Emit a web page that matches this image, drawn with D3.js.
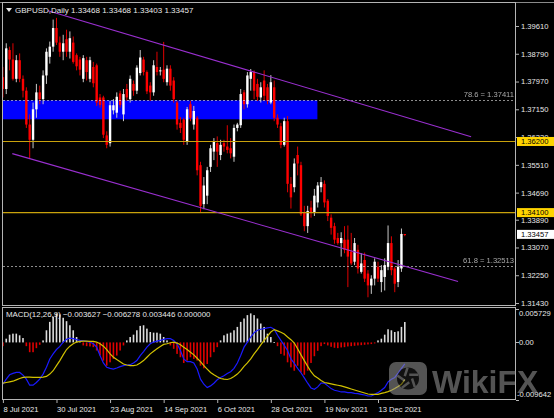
<!DOCTYPE html>
<html><head><meta charset="utf-8">
<script src="https://cdn.jsdelivr.net/npm/d3@7"></script>
<style>
html,body{margin:0;padding:0;background:#000;}
svg{display:block;}
</style></head><body>
<svg id="c" width="554" height="418"></svg>
<script>
// ---------------- DATA ----------------
const symbol = "GBPUSD,Daily";
const firstBarDate = new Date(2021, 6, 8);
const lastBarDate = new Date(2021, 11, 23);

const open = [
1.3810,1.3775,1.3890,1.3862,1.3805,1.3860,1.3805,1.3770,1.3670,1.3625,
1.3715,1.3765,1.3745,1.3815,1.3870,1.3900,1.3955,1.3912,1.3885,1.3922,
1.3885,1.3912,1.3875,1.3862,1.3805,1.3860,1.3805,1.3840,1.3845,1.3750,
1.3750,1.3638,1.3615,1.3712,1.3705,1.3762,1.3700,1.3775,1.3745,1.3790,
1.3770,1.3822,1.3862,1.3825,1.3785,1.3765,1.3840,1.3828,1.3832,1.3795,
1.3835,1.3800,1.3735,1.3675,1.3685,1.3620,1.3730,1.3670,1.3690,1.3550,
1.3435,1.3460,1.3545,1.3590,1.3615,1.3580,1.3615,1.3605,1.3600,1.3575,
1.3660,1.3668,1.3765,1.3730,1.3805,1.3825,1.3790,1.3750,1.3800,1.3780,
1.3735,1.3780,1.3690,1.3665,1.3610,1.3680,1.3495,1.3485,1.3580,1.3550,
1.3410,1.3370,1.3425,1.3410,1.3440,1.3485,1.3495,1.3445,1.3395,1.3370,
1.3335,1.3320,1.3330,1.3330,1.3295,1.3265,1.3300,1.3235,1.3270,1.3230,
1.3195,1.3215,1.3250,1.3205,1.3220,1.3250,1.3320,1.3245,1.3205,1.3245,
1.33468];
const high = [
1.3840,1.3910,1.3900,1.3910,1.3875,1.3880,1.3815,1.3780,1.3700,1.3735,
1.3790,1.3785,1.3830,1.3895,1.3915,1.3980,1.3985,1.3930,1.3935,1.3950,
1.3945,1.3930,1.3880,1.3870,1.3875,1.3870,1.3870,1.3855,1.3850,1.3760,
1.3755,1.3650,1.3740,1.3745,1.3765,1.3770,1.3775,1.3790,1.3815,1.3800,
1.3845,1.3890,1.3870,1.3830,1.3795,1.3860,1.3885,1.3840,1.3914,1.3845,
1.3845,1.3810,1.3740,1.3692,1.3690,1.3722,1.3740,1.3725,1.3695,1.3560,
1.3515,1.3545,1.3610,1.3630,1.3635,1.3625,1.3625,1.3668,1.3630,1.3670,
1.3675,1.3775,1.3772,1.3825,1.3834,1.3830,1.3805,1.3795,1.3830,1.3790,
1.3816,1.3800,1.3700,1.3675,1.3690,1.3695,1.3515,1.3570,1.3605,1.3560,
1.3430,1.3430,1.3445,1.3480,1.3500,1.3515,1.3505,1.3450,1.3405,1.3380,
1.3350,1.3352,1.3370,1.3372,1.3350,1.3335,1.3315,1.3290,1.3292,1.3240,
1.3225,1.3275,1.3265,1.3255,1.3275,1.3372,1.3340,1.3250,1.3270,1.3363,
1.33468];
const low = [
1.3750,1.3760,1.3830,1.3800,1.3795,1.3795,1.3750,1.3660,1.3570,1.3600,
1.3690,1.3730,1.3730,1.3790,1.3850,1.3885,1.3905,1.3870,1.3860,1.3870,
1.3865,1.3850,1.3830,1.3815,1.3795,1.3800,1.3795,1.3780,1.3725,1.3720,
1.3630,1.3600,1.3605,1.3700,1.3690,1.3720,1.3680,1.3740,1.3735,1.3755,
1.3760,1.3815,1.3815,1.3760,1.3740,1.3755,1.3815,1.3815,1.3795,1.3785,
1.3770,1.3735,1.3655,1.3645,1.3610,1.3610,1.3680,1.3655,1.3520,1.3412,
1.3420,1.3435,1.3530,1.3565,1.3545,1.3565,1.3590,1.3585,1.3570,1.3560,
1.3650,1.3660,1.3715,1.3720,1.3770,1.3745,1.3740,1.3735,1.3740,1.3730,
1.3730,1.3680,1.3660,1.3600,1.3605,1.3470,1.3422,1.3470,1.3520,1.3400,
1.3355,1.3350,1.3395,1.3400,1.3425,1.3470,1.3425,1.3385,1.3345,1.3318,
1.3315,1.3280,1.3290,1.3190,1.3255,1.3255,1.3230,1.3230,1.3205,1.3160,
1.3170,1.3195,1.3205,1.3175,1.3180,1.3240,1.3225,1.3175,1.3190,1.3235,
1.33403];
const close = [
1.3775,1.3895,1.3862,1.3805,1.3860,1.3805,1.3770,1.3670,1.3625,1.3715,
1.3765,1.3745,1.3815,1.3885,1.3900,1.3955,1.3912,1.3885,1.3910,1.3885,
1.3925,1.3855,1.3842,1.3832,1.3866,1.3825,1.3860,1.3792,1.3735,1.3728,
1.3640,1.3610,1.3727,1.3727,1.3752,1.3728,1.3760,1.3750,1.3805,1.3770,
1.3838,1.3868,1.3825,1.3768,1.3765,1.3845,1.3825,1.3830,1.3805,1.3835,
1.3785,1.3745,1.3670,1.3660,1.3625,1.3715,1.3690,1.3710,1.3535,1.3430,
1.3490,1.3535,1.3600,1.3620,1.3590,1.3610,1.3605,1.3595,1.3585,1.3660,
1.3670,1.3760,1.3730,1.3815,1.3825,1.3770,1.3752,1.3780,1.3755,1.3740,
1.3795,1.3690,1.3670,1.3610,1.3680,1.3495,1.3455,1.3555,1.3555,1.3405,
1.3370,1.3415,1.3410,1.3460,1.3490,1.3500,1.3440,1.3400,1.3365,1.3330,
1.3320,1.3335,1.3300,1.3280,1.3260,1.3320,1.3245,1.3260,1.3215,1.3195,
1.3215,1.3265,1.3215,1.3240,1.3255,1.3320,1.3240,1.3200,1.3250,1.3347,
1.33457];

// MACD buffers, in thousandths
const macdMainE3 = [
-7.06,-6.21,-5.47,-5.24,-5.07,-5.07,-5.52,-6.21,-7.23,-7.23,
-6.77,-6.21,-5.35,-4.21,-2.79,-1.94,-1.20,-0.68,0.06,0.51,
0.74,0.63,0.46,0.34,0.28,0.17,0.06,-0.23,-0.80,-2.22,
-3.47,-4.21,-4.38,-4.50,-4.33,-4.10,-3.93,-3.81,-3.76,-3.47,
-3.07,-2.22,-1.54,-0.80,-0.23,0.06,0.23,0.34,0.51,0.63,
0.63,0.34,-0.23,-1.37,-2.79,-3.25,-3.25,-3.47,-4.50,-6.21,
-7.06,-7.63,-7.34,-6.89,-6.32,-5.92,-5.64,-5.24,-4.95,-4.38,
-3.47,-2.22,-0.80,0.06,0.91,1.65,2.05,2.22,2.33,2.45,
2.56,2.22,1.20,0.34,-0.51,-1.37,-2.79,-3.53,-4.38,-5.12,
-5.98,-6.89,-7.69,-7.91,-7.51,-6.89,-6.89,-7.34,-7.80,-8.08,
-8.20,-8.37,-8.37,-8.48,-8.48,-8.60,-8.65,-8.77,-8.88,-9.05,
-9.05,-8.77,-8.48,-8.08,-7.63,-6.66,-6.21,-5.92,-5.18,-4.38,
-3.627];
const macdSignalE3 = [
-6.89,-6.77,-6.66,-6.55,-6.32,-6.09,-5.92,-5.86,-5.86,-5.92,
-5.92,-5.92,-5.86,-5.75,-5.35,-4.78,-3.93,-3.07,-2.11,-1.20,
-0.63,-0.23,0.06,0.17,0.23,0.23,0.17,0.17,0.06,-0.23,
-0.63,-1.20,-1.94,-2.50,-2.90,-3.25,-3.64,-3.81,-3.93,-3.93,
-3.81,-3.47,-3.07,-2.50,-1.94,-1.48,-1.08,-0.68,-0.34,-0.23,
-0.06,0.06,-0.11,-0.40,-0.80,-1.20,-1.65,-2.11,-2.68,-3.25,
-3.93,-4.50,-5.07,-5.47,-5.81,-6.09,-6.21,-6.26,-6.09,-5.75,
-5.35,-4.78,-4.04,-3.47,-2.79,-1.94,-1.20,-0.40,0.34,1.08,
1.76,2.16,1.94,1.71,1.42,0.91,0.46,-0.11,-1.08,-2.11,
-3.07,-4.04,-4.95,-5.64,-6.03,-6.43,-6.77,-6.89,-7.00,-7.12,
-7.23,-7.34,-7.51,-7.69,-7.86,-8.03,-8.20,-8.37,-8.54,-8.71,
-8.77,-8.77,-8.77,-8.60,-8.48,-8.31,-8.08,-7.80,-7.46,-7.06,
-6.278];
const macdHistE3 = [
-0.63,0.63,1.31,1.48,1.48,1.20,0.74,-0.63,-1.65,-1.65,
-0.97,-0.40,0.34,2.05,3.47,4.33,4.90,4.73,4.16,3.59,
2.90,2.05,0.91,0.28,-0.51,-0.63,-0.68,-0.80,-1.37,-2.22,
-3.07,-3.93,-3.36,-2.79,-2.22,-1.37,-0.51,0.34,0.91,1.31,
2.05,2.79,2.90,2.33,1.76,1.65,1.65,1.48,0.91,0.34,
-0.51,-1.08,-1.94,-2.50,-3.47,-3.07,-2.50,-2.79,-3.07,-3.93,
-4.38,-3.64,-2.50,-1.65,-0.80,0.34,1.20,1.48,1.65,2.05,
2.62,3.47,4.04,4.61,4.90,4.61,4.04,3.19,2.62,1.48,
0.91,0.06,-0.63,-1.94,-2.22,-3.36,-4.21,-4.78,-3.93,-5.07,
-5.47,-4.78,-3.47,-2.33,-1.42,-0.63,-0.28,-0.51,-0.74,-0.91,
-0.97,-0.85,-0.80,-0.68,-0.63,-0.57,-0.51,-0.46,-0.40,-0.34,
-0.28,-0.17,0.34,0.63,1.31,2.22,2.05,1.76,1.88,2.62,
3.446];
const macdParams = "MACD(12,26,9)";
const macdFourthBuffer = 0;

const priceTicks = [1.39610,1.38790,1.37970,1.37150,1.36330,1.35510,1.34690,1.33890,1.33070,1.32250,1.31430];
const macdTicks = [0.005729, 0, -0.009642];
const macdTickLabels = ["0.005729", "0.00", "-0.009642"];
const supportLevels = [1.36200, 1.34100];
const fibLevels = [{name:"78.6", price:1.37411}, {name:"61.8", price:1.32513}];
const zone = {fromBar:-4, toBar:93.9, top:1.37411, bottom:1.36855};
const channelUpper = [{bar:13.46, price:1.40062}, {bar:139.8, price:1.36341}];
const channelLower = [{bar:2.81, price:1.35842}, {bar:135.9, price:1.32065}];
const dateTickEvery = 16;

// ---------------- CHART ----------------
const W = 554, H = 418;
const FONT = "'Liberation Sans', Arial, sans-serif";
const FS = 7.6;
const svg = d3.select("#c");
svg.append("rect").attr("width", W).attr("height", H).attr("fill", "#000");

const n = close.length;
const barDates = d3.timeDays(firstBarDate, d3.timeDay.offset(lastBarDate, 1))
  .filter(d => d.getDay() !== 0 && d.getDay() !== 6);

const x = d3.scaleLinear().domain([0, 120]).range([2.9, 404.8]);
const y = d3.scaleLinear().domain([1.31342, 1.40289]).range([306, 3]);
const ym = d3.scaleLinear().domain([-0.009642, 0.005729]).range([399.5, 308.5]);

const defs = svg.append("defs");
defs.append("clipPath").attr("id", "clipMain").append("rect")
  .attr("x", 3).attr("y", 3).attr("width", 513).attr("height", 303);
defs.append("clipPath").attr("id", "clipMacd").append("rect")
  .attr("x", 3).attr("y", 308).attr("width", 513).attr("height", 92);

const gMain = svg.append("g").attr("clip-path", "url(#clipMain)");

// zone rectangle (background)
gMain.append("rect")
  .attr("x", x(zone.fromBar)).attr("y", y(zone.top))
  .attr("width", x(zone.toBar) - x(zone.fromBar))
  .attr("height", y(zone.bottom) - y(zone.top))
  .attr("fill", "#0000ff");

// candles
const bars = d3.range(n).map(i => ({i, o: open[i], h: high[i], l: low[i], c: close[i]}));
const gC = gMain.append("g");
gC.selectAll("rect.wick").data(bars).join("rect").attr("class", "wick")
  .attr("x", d => x(d.i) - 0.5)
  .attr("width", 1)
  .attr("y", d => y(d.h))
  .attr("height", d => Math.max(1, y(d.l) - y(d.h)))
  .attr("fill", d => d.c >= d.o ? "#c8c8c8" : "#e00000");
gC.selectAll("rect.body").data(bars).join("rect").attr("class", "body")
  .attr("x", d => x(d.i) - 1.2)
  .attr("width", 2.4)
  .attr("y", d => y(Math.max(d.o, d.c)))
  .attr("height", d => Math.max(1, Math.abs(y(d.o) - y(d.c))))
  .attr("fill", d => d.c >= d.o ? "#ffffff" : "#ff0000");

// support lines
gMain.selectAll("line.sup").data(supportLevels).join("line").attr("class", "sup")
  .attr("x1", 3).attr("x2", 516)
  .attr("y1", d => y(d)).attr("y2", d => y(d))
  .attr("stroke", "#c9a20c").attr("stroke-width", 1.2);

// fib dotted levels
gMain.selectAll("line.fib").data(fibLevels).join("line").attr("class", "fib")
  .attr("x1", 3).attr("x2", 514)
  .attr("y1", d => Math.round(y(d.price)) + 0.5).attr("y2", d => Math.round(y(d.price)) + 0.5)
  .attr("stroke", "#8c8c8c").attr("stroke-width", 1).attr("stroke-dasharray", "2,2")
  .style("mix-blend-mode", "screen");
gMain.selectAll("text.fib").data(fibLevels).join("text").attr("class", "fib")
  .attr("x", 514).attr("y", d => y(d.price) - 3)
  .attr("text-anchor", "end").attr("fill", "#a8a8a8")
  .attr("font-family", FONT).attr("font-size", FS)
  .text(d => d.name + " = " + d3.format(".5f")(d.price));

// channel lines
const chLine = d3.line().x(d => x(d.bar)).y(d => y(d.price));
[channelUpper, channelLower].forEach(c => {
  gMain.append("path").attr("d", chLine(c)).attr("fill", "none")
    .attr("stroke", "#9a2fd0").attr("stroke-width", 1.1);
});

// ---------------- MACD ----------------
const macdMain = macdMainE3.map(v => v / 1000);
const macdSignal = macdSignalE3.map(v => v / 1000);
const macdHist = macdHistE3.map(v => v / 1000);
const gM = svg.append("g").attr("clip-path", "url(#clipMacd)");
gM.selectAll("rect.h").data(macdHist).join("rect").attr("class", "h")
  .attr("x", (d, i) => x(i) - 0.8)
  .attr("width", 1.6)
  .attr("y", d => ym(Math.max(0, d)))
  .attr("height", d => Math.max(0.8, Math.abs(ym(d) - ym(0))))
  .attr("fill", d => d >= 0 ? "#dcdcdc" : "#e00000");
const mLine = d3.line().x((d, i) => x(i)).y(d => ym(d));
gM.append("path").attr("d", mLine(macdMain)).attr("fill", "none")
  .attr("stroke", "#1a1aff").attr("stroke-width", 1.2);
gM.append("path").attr("d", mLine(macdSignal)).attr("fill", "none")
  .attr("stroke", "#d2c200").attr("stroke-width", 1.2);

// ---------------- FRAMES ----------------
const frameCol = "#b4b4b4";
svg.append("line").attr("x1", 0).attr("x2", W).attr("y1", 2.5).attr("y2", 2.5).attr("stroke", "#8a8a8a");
svg.append("rect").attr("x", 2.5).attr("y", 2.5).attr("width", 513).attr("height", 303)
  .attr("fill", "none").attr("stroke", frameCol);
svg.append("rect").attr("x", 2.5).attr("y", 307.5).attr("width", 513).attr("height", 92)
  .attr("fill", "none").attr("stroke", frameCol);

// ---------------- AXES ----------------
const yAxis = d3.axisRight(y).tickValues(priceTicks).tickFormat(d3.format(".5f"))
  .tickSize(3).tickPadding(2);
const gy = svg.append("g").attr("transform", "translate(516,0)").call(yAxis);
gy.attr("font-family", FONT).attr("font-size", FS);
gy.select(".domain").remove();
gy.selectAll("line").attr("stroke", frameCol);
gy.selectAll("text").attr("fill", "#e8e8e8");

// macd axis
const gma = svg.append("g");
gma.selectAll("line").data(macdTicks).join("line")
  .attr("x1", 516).attr("x2", 519)
  .attr("y1", d => Math.round(ym(d)) + 0.5).attr("y2", d => Math.round(ym(d)) + 0.5)
  .attr("stroke", frameCol);
gma.selectAll("text").data(macdTicks).join("text")
  .attr("x", (d, i) => d < 0 ? 517 : 519)
  .attr("y", (d, i) => i === 0 ? ym(d) + 7.5 : (d < 0 ? ym(d) - 3 : ym(d) + 2.7))
  .attr("fill", "#e8e8e8").attr("font-family", FONT).attr("font-size", FS)
  .text((d, i) => macdTickLabels[i]);

// price label boxes
const boxes = supportLevels.map(p => ({p, bg: "#ffd400"}))
  .concat([{p: close[n - 1], bg: "#ffffff"}]);
const gb = svg.append("g");
gb.selectAll("rect").data(boxes).join("rect")
  .attr("x", 517).attr("y", d => y(d.p) - 4.5).attr("width", 37).attr("height", 9)
  .attr("fill", d => d.bg);
gb.selectAll("text").data(boxes).join("text")
  .attr("x", 521).attr("y", d => y(d.p) + 2.8)
  .attr("fill", "#000").attr("font-family", FONT).attr("font-size", FS)
  .text(d => d3.format(".5f")(d.p));

// date axis
const fmtDate = d3.timeFormat("%-d %b %Y");
const tickIdx = d3.range(0, n, dateTickEvery);
const xAxis = d3.axisBottom(x).tickValues(tickIdx).tickFormat(i => fmtDate(barDates[i])).tickSize(3);
const gx = svg.append("g").attr("transform", "translate(0,400)").call(xAxis);
gx.attr("font-family", FONT).attr("font-size", FS);
gx.select(".domain").remove();
gx.selectAll("line").attr("stroke", frameCol);
gx.selectAll("text").attr("fill", "#e8e8e8").attr("text-anchor", "start")
  .attr("x", 0).attr("y", 12).attr("dy", null);

// ---------------- TEXTS ----------------
svg.append("path").attr("d", "M6,8 L12,8 L9,12 Z").attr("fill", "#e8e8e8");
const f5 = d3.format(".5f");
svg.append("text").attr("x", 15).attr("y", 12.8)
  .attr("fill", "#e8e8e8").attr("font-family", FONT).attr("font-size", 8)
  .text(symbol + " " + [open[n-1], high[n-1], low[n-1], close[n-1]].map(f5).join(" "));
const f6 = d3.format(".6f");
svg.append("text").attr("x", 6).attr("y", 317)
  .attr("fill", "#e8e8e8").attr("font-family", FONT).attr("font-size", 7.9)
  .text(macdParams + " " + [macdMain[n-1], macdSignal[n-1], macdHist[n-1], macdFourthBuffer].map(f6).join(" "));

// watermark
const wm = svg.append("g").attr("opacity", 0.55);
wm.append("rect").attr("x", 389).attr("y", 362).attr("width", 38).attr("height", 33).attr("rx", 7)
  .attr("fill", "#9a9a9a");
wm.append("circle").attr("cx", 408).attr("cy", 378.5).attr("r", 11).attr("fill", "#000").attr("opacity", 0.8);
[0, 72, 144, 216, 288].forEach(a => {
  const r = a * Math.PI / 180;
  wm.append("line")
    .attr("x1", 408 + 4 * Math.cos(r)).attr("y1", 378.5 + 4 * Math.sin(r))
    .attr("x2", 408 + 11 * Math.cos(r + 0.9)).attr("y2", 378.5 + 11 * Math.sin(r + 0.9))
    .attr("stroke", "#9a9a9a").attr("stroke-width", 2.5);
});
wm.append("text").attr("x", 432).attr("y", 393)
  .attr("fill", "#9a9a9a").attr("font-family", FONT).attr("font-weight", "bold")
  .attr("font-size", 32).text("WikiFX");
</script>
</body></html>
